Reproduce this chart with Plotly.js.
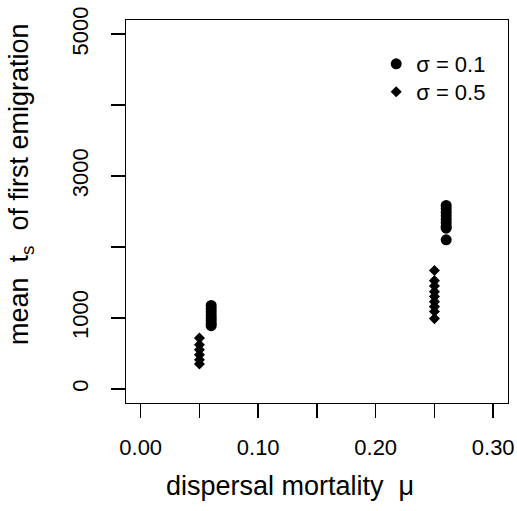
<!DOCTYPE html>
<html>
<head>
<meta charset="utf-8">
<script src="https://cdn.plot.ly/plotly-3.0.1.min.js"></script>
<style>
  html, body { margin: 0; padding: 0; background: #ffffff; }
  #chart { width: 517px; height: 511px; }
</style>
</head>
<body>
<div id="chart"></div>
<script>
// Series: sigma = 0.1 (filled circles)
const sigma01Mu = [0.06, 0.06, 0.06, 0.06, 0.06, 0.06, 0.06, 0.06,
                   0.26, 0.26, 0.26, 0.26, 0.26, 0.26, 0.26, 0.26, 0.26];
const sigma01T  = [1175, 1130, 1085, 1040, 1000, 960, 920, 890,
                   2585, 2540, 2490, 2440, 2390, 2340, 2290, 2265, 2100];

// Series: sigma = 0.5 (filled diamonds)
const sigma05Mu = [0.05, 0.05, 0.05, 0.05, 0.05, 0.05,
                   0.25, 0.25, 0.25, 0.25, 0.25, 0.25, 0.25, 0.25, 0.25];
const sigma05T  = [715, 620, 550, 480, 410, 350,
                   1669, 1525, 1451, 1370, 1300, 1229, 1159, 1089, 990];

const seriesNames = ['σ = 0.1', 'σ = 0.5'];

// Axis ticks (labelled) and unlabelled intermediate ticks
const xTickVals = [0, 0.10, 0.20, 0.30];
const xTickText = ['0.00', '0.10', '0.20', '0.30'];
const xMinorVals = [0.05, 0.15, 0.25];
const yTickVals = [0, 1000, 3000, 5000];
const yTickText = ['0', '1000', '3000', '5000'];
const yMinorVals = [2000, 4000];

const xTitle = 'dispersal mortality  μ';
const yTitle = 'mean  t<sub>s</sub>  of first emigration';

const FONT = '"Liberation Sans", Arial, Helvetica, sans-serif';

const traces = [
  {
    x: sigma01Mu, y: sigma01T, name: seriesNames[0],
    type: 'scatter', mode: 'markers', legend: 'legend',
    marker: { symbol: 'circle', size: 11, color: '#000000' }
  },
  {
    x: sigma05Mu, y: sigma05T, name: seriesNames[1],
    type: 'scatter', mode: 'markers', legend: 'legend2',
    marker: { symbol: 'diamond', size: 8.5, color: '#000000' }
  }
];

const minorCommon = {
  ticks: 'outside', ticklen: 14, tickwidth: 1.4, tickcolor: '#000000',
  showgrid: false, tickmode: 'array'
};

const axisCommon = {
  showgrid: false, zeroline: false,
  showline: true, mirror: true, linecolor: '#000000', linewidth: 1.4,
  ticks: 'outside', ticklen: 14, tickwidth: 1.4, tickcolor: '#000000',
  tickfont: { family: FONT, size: 22, color: '#000000' }
};

const legendCommon = {
  xanchor: 'left', yanchor: 'top',
  bgcolor: 'rgba(0,0,0,0)', borderwidth: 0,
  font: { family: FONT, size: 22, color: '#000000' }
};

const layout = {
  width: 517, height: 511,
  margin: { l: 126, r: 9, t: 20, b: 108 },
  paper_bgcolor: '#ffffff', plot_bgcolor: '#ffffff',
  font: { family: FONT, color: '#000000' },
  showlegend: true,
  legend: Object.assign({}, legendCommon, { x: 0.655, y: 0.940 }),
  legend2: Object.assign({}, legendCommon, { x: 0.655, y: 0.867 }),
  xaxis: Object.assign({}, axisCommon, {
    range: [-0.0125, 0.3126],
    tickmode: 'array', tickvals: xTickVals, ticktext: xTickText,
    ticklabelstandoff: 10,
    minor: Object.assign({}, minorCommon, { tickvals: xMinorVals })
  }),
  yaxis: Object.assign({}, axisCommon, {
    range: [-200, 5200],
    tickmode: 'array', tickvals: yTickVals, ticktext: yTickText,
    tickangle: -90, ticklabelstandoff: 14,
    minor: Object.assign({}, minorCommon, { tickvals: yMinorVals })
  }),
  annotations: [
    {
      text: xTitle, xref: 'paper', yref: 'paper',
      x: (290 - 126) / 382, y: -(486 - 403) / 383,
      xanchor: 'center', yanchor: 'middle', showarrow: false,
      font: { family: FONT, size: 27, color: '#000000' }
    },
    {
      text: yTitle, xref: 'paper', yref: 'paper',
      x: -(126 - 21) / 382, y: (403 - 184) / 383,
      xanchor: 'center', yanchor: 'middle', showarrow: false, textangle: -90,
      font: { family: FONT, size: 27, color: '#000000' }
    }
  ]
};

Plotly.newPlot('chart', traces, layout, { displayModeBar: false, staticPlot: true });
</script>
</body>
</html>
